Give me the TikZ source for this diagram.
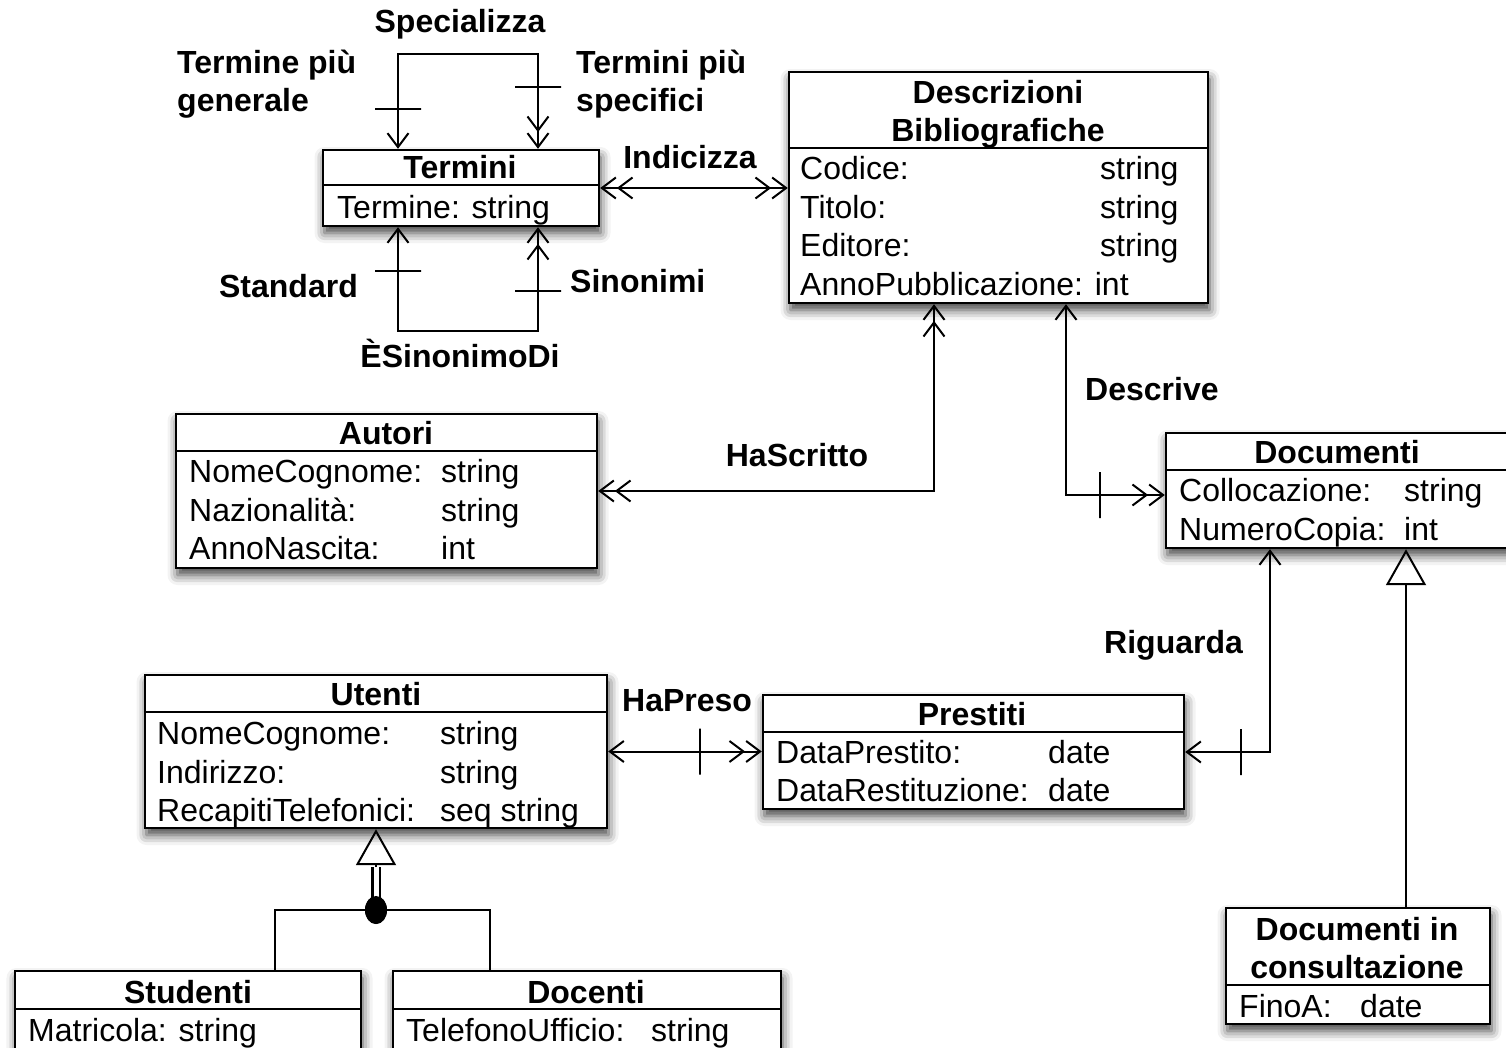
\documentclass[tikz,border=0pt]{standalone}
\usepackage{fontspec}
\setmainfont{Liberation Sans}
\usetikzlibrary{arrows.meta,shadows.blur,shapes.geometric}
\newcommand{\diagfont}{\fontsize{32}{38}\selectfont}
\begin{document}
\begin{tikzpicture}[x=1pt,y=-1pt,
  font=\diagfont,
  >={Straight Barb[length=14pt,width=21pt,line width=2pt]},
  cls/.style={draw,line width=2.4pt,fill=white,inner sep=0pt,shape=rectangle,
    blur shadow={shadow xshift=1.5pt,shadow yshift=-7pt,shadow blur radius=10pt,shadow opacity=75}},
  hdr/.style={font=\diagfont\bfseries,inner sep=0pt},
  attr/.style={font=\diagfont,inner sep=0pt,anchor=base west},
  lbl/.style={font=\diagfont\bfseries,inner sep=0pt},
  conn/.style={line width=2pt},
  divider/.style={line width=2.4pt},
  tickbar/.style={draw,line width=2pt,sloped,inner sep=0pt,shape=rectangle,
    minimum width=0pt,minimum height=46pt},
  gen/.style={conn,-{Triangle[open,length=36pt,width=40pt,line width=2pt]}}
]
\useasboundingbox (0,0) rectangle (1506,1048);

% ---------- classes ----------
\node[cls,minimum width=276pt,minimum height=76pt] (termini) at (461,188) {};
\draw[divider] ([yshift=-36pt]termini.north west) -- ([yshift=-36pt]termini.north east);
\node[hdr,anchor=base] (termini-h) at (460,179) {Termini};
\node[attr] (termini-a) at (337,219) {Termine: string};

\node[cls,minimum width=419pt,minimum height=231pt] (descr) at (998.5,187.5) {};
\draw[divider] ([yshift=-77pt]descr.north west) -- ([yshift=-77pt]descr.north east);
\node[hdr,anchor=north,align=center] (descr-h) at (998,80) {Descrizioni\\Bibliografiche};
\node[attr] (descr-a1) at (800,180) {Codice:};
\node[attr] (descr-t1) at (1100,180) {string};
\node[attr] (descr-a2) at (800,219) {Titolo:};
\node[attr] (descr-t2) at (1100,219) {string};
\node[attr] (descr-a3) at (800,257) {Editore:};
\node[attr] (descr-t3) at (1100,257) {string};
\node[attr] (descr-a4) at (800,296) {AnnoPubblicazione: int};

\node[cls,minimum width=421pt,minimum height=154pt] (autori) at (386.5,491) {};
\draw[divider] ([yshift=-38pt]autori.north west) -- ([yshift=-38pt]autori.north east);
\node[hdr,anchor=base] (autori-h) at (386,444) {Autori};
\node[attr] (autori-a1) at (189,482) {NomeCognome:};
\node[attr] (autori-t1) at (441,482) {string};
\node[attr] (autori-a2) at (189,521) {Nazionalità:};
\node[attr] (autori-t2) at (441,521) {string};
\node[attr] (autori-a3) at (189,559) {AnnoNascita:};
\node[attr] (autori-t3) at (441,559) {int};

\node[cls,minimum width=348pt,minimum height=115pt] (documenti) at (1340,490.5) {};
\draw[divider] ([yshift=-38pt]documenti.north west) -- ([yshift=-38pt]documenti.north east);
\node[hdr,anchor=base] (documenti-h) at (1337,463) {Documenti};
\node[attr] (documenti-a1) at (1179,501) {Collocazione:};
\node[attr] (documenti-t1) at (1404,501) {string};
\node[attr] (documenti-a2) at (1179,540) {NumeroCopia:};
\node[attr] (documenti-t2) at (1404,540) {int};

\node[cls,minimum width=462pt,minimum height=153pt] (utenti) at (376,751.5) {};
\draw[divider] ([yshift=-38pt]utenti.north west) -- ([yshift=-38pt]utenti.north east);
\node[hdr,anchor=base] (utenti-h) at (376,705) {Utenti};
\node[attr] (utenti-a1) at (157,744) {NomeCognome:};
\node[attr] (utenti-t1) at (440,744) {string};
\node[attr] (utenti-a2) at (157,783) {Indirizzo:};
\node[attr] (utenti-t2) at (440,783) {string};
\node[attr] (utenti-a3) at (157,821) {RecapitiTelefonici:};
\node[attr] (utenti-t3) at (440,821) {seq string};

\node[cls,minimum width=421pt,minimum height=114pt] (prestiti) at (973.5,752) {};
\draw[divider] ([yshift=-38pt]prestiti.north west) -- ([yshift=-38pt]prestiti.north east);
\node[hdr,anchor=base] (prestiti-h) at (972,725) {Prestiti};
\node[attr] (prestiti-a1) at (776,763) {DataPrestito:};
\node[attr] (prestiti-t1) at (1048,763) {date};
\node[attr] (prestiti-a2) at (776,801) {DataRestituzione:};
\node[attr] (prestiti-t2) at (1048,801) {date};

\node[cls,minimum width=346pt,minimum height=99pt] (studenti) at (188,1020.5) {};
\draw[divider] ([yshift=-39pt]studenti.north west) -- ([yshift=-39pt]studenti.north east);
\node[hdr,anchor=base] (studenti-h) at (188,1003) {Studenti};
\node[attr] (studenti-a) at (28,1041) {Matricola: string};

\node[cls,minimum width=388pt,minimum height=99pt] (docenti) at (587,1020.5) {};
\draw[divider] ([yshift=-39pt]docenti.north west) -- ([yshift=-39pt]docenti.north east);
\node[hdr,anchor=base] (docenti-h) at (586,1003) {Docenti};
\node[attr] (docenti-a) at (406,1041) {TelefonoUfficio:};
\node[attr] (docenti-t) at (651,1041) {string};

\node[cls,minimum width=264pt,minimum height=116pt] (doccons) at (1358,966) {};
\draw[divider] ([yshift=-78pt]doccons.north west) -- ([yshift=-78pt]doccons.north east);
\node[hdr,anchor=north,align=center] (doccons-h) at (1357,917) {Documenti in\\consultazione};
\node[attr] (doccons-a) at (1239,1017) {FinoA:};
\node[attr] (doccons-t) at (1360,1017) {date};

% ---------- associations ----------
% Specializza (recursive on Termini)
\draw[conn,<->>] ([xshift=-63pt]termini.north) -- node[tickbar,pos=0.42]{} ++(0,-95)
  -| node[tickbar,pos=0.674]{} ([xshift=77pt]termini.north);
\node[lbl,anchor=base] (l-spec) at (460,33) {Specializza};
\node[lbl,anchor=north west,align=left] (l-gen) at (177,49.5) {Termine più\\generale};
\node[lbl,anchor=north west,align=left] (l-specif) at (576,49.5) {Termini più\\specifici};

% ÈSinonimoDi (recursive on Termini)
\draw[conn,<->>] ([xshift=-63pt]termini.south) -- node[tickbar,pos=0.423]{} ++(0,104)
  -| node[tickbar,pos=0.692]{} ([xshift=77pt]termini.south);
\node[lbl,anchor=base east] (l-std) at (358,298) {Standard};
\node[lbl,anchor=base west] (l-sin) at (570,293) {Sinonimi};
\node[lbl,anchor=base] (l-esin) at (460,367) {ÈSinonimoDi};

% Indicizza
\draw[conn,<<->>] (termini.east) -- (termini.east -| descr.west);
\node[lbl,anchor=base] (l-ind) at (690,169) {Indicizza};

% HaScritto
\draw[conn,<<->>] ([xshift=-64.5pt]descr.south) |- (autori.east);
\node[lbl,anchor=base] (l-has) at (797,466) {HaScritto};

% Descrive
\draw[conn,<->>] ([xshift=67.5pt]descr.south) |- node[tickbar,pos=0.67]{} ([yshift=-4.5pt]documenti.west);
\node[lbl,anchor=base west] (l-desc) at (1085,400) {Descrive};

% Riguarda
\draw[conn,<->] ([xshift=-70pt]documenti.south) |- node[tickbar,pos=0.674]{} (prestiti.east);
\node[lbl,anchor=base west] (l-rig) at (1104,653) {Riguarda};

% HaPreso
\draw[conn,<->>] (utenti.east) -- node[tickbar,pos=0.596]{} (utenti.east -| prestiti.west);
\node[lbl,anchor=base west] (l-hap) at (622,711) {HaPreso};

% ---------- generalizations ----------
\draw[gen] ([xshift=48pt]doccons.north) -- ([xshift=66pt]documenti.south);

\coordinate (genbase) at ([yshift=-38pt]utenti.south);
\node[ellipse,fill,minimum width=22pt,minimum height=28pt,inner sep=0pt] (gendot) at (376,910) {};
\draw[conn] ([xshift=87pt]studenti.north) |- (gendot.center) -| ([xshift=-97pt]docenti.north);
\draw[double,double distance=5pt,line width=2.4pt] (gendot.center) -- (genbase);
\draw[gen] (genbase) -- (utenti.south);
\node[ellipse,fill,minimum width=22pt,minimum height=28pt,inner sep=0pt] at (gendot.center) {};
\end{tikzpicture}
\end{document}
